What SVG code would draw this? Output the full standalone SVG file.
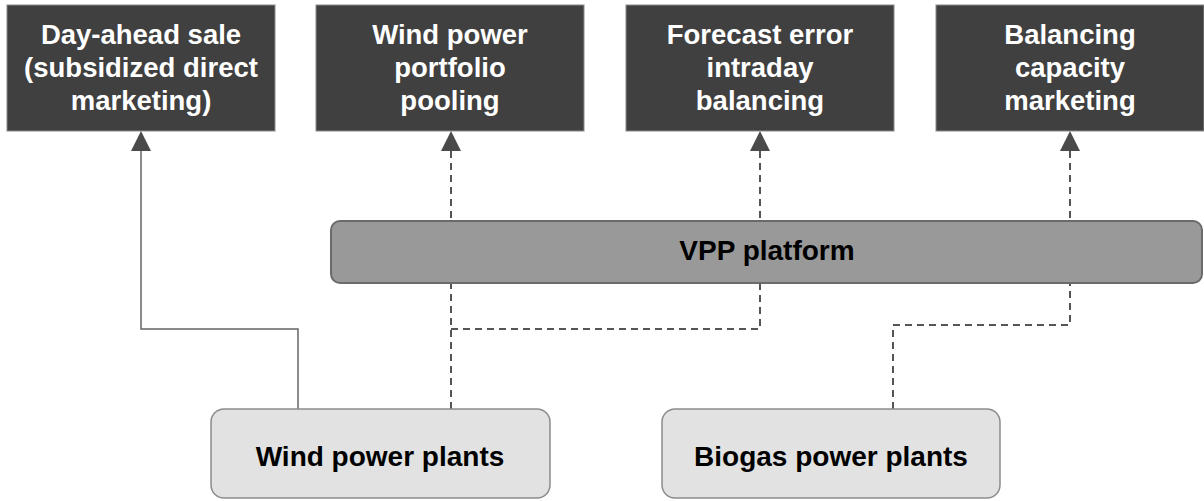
<svg xmlns="http://www.w3.org/2000/svg" width="1204" height="501" viewBox="0 0 1204 501">
<style>
.top{fill:#404040;stroke:#8a8a8a;stroke-width:1}
.tt{fill:#ffffff;font-family:"Liberation Sans",Arial,sans-serif;font-weight:bold;font-size:27.5px;text-anchor:middle}
.bt{fill:#000000;font-family:"Liberation Sans",Arial,sans-serif;font-weight:bold;font-size:28px;text-anchor:middle}
.plant{fill:#e2e2e2;stroke:#8c8c8c;stroke-width:1.5}
.vpp{fill:#999999;stroke:#6a6a6a;stroke-width:2}
.dash{fill:none;stroke:#555555;stroke-width:2;stroke-dasharray:7 5}
.solid{fill:none;stroke:#666666;stroke-width:1.5}
.head{fill:#4a4a4a}
</style>
<g id="connectors">
<path class="solid" d="M298,409 V329 H141 V151"/>
<path class="dash" d="M451,151 V221"/>
<path class="dash" d="M451,409 V283"/>
<path class="dash" d="M451,329 H760 V283"/>
<path class="dash" d="M760,151 V221"/>
<path class="dash" d="M1070,151 V221"/>
<path class="dash" d="M893,409 V325 H1070 V283"/>
<polygon class="head" points="141,131 131,151 151,151"/>
<polygon class="head" points="451,131 441,151 461,151"/>
<polygon class="head" points="760,131 750,151 770,151"/>
<polygon class="head" points="1070,131 1060,151 1080,151"/>
</g>
<g id="n-dayahead">
<rect class="top" x="7" y="5" width="268" height="126"/>
<text class="tt" x="141" y="44">Day-ahead sale</text>
<text class="tt" x="141" y="77">(subsidized direct</text>
<text class="tt" x="141" y="110">marketing)</text>
</g>
<g id="n-pooling">
<rect class="top" x="316" y="5" width="268" height="126"/>
<text class="tt" x="450" y="44">Wind power</text>
<text class="tt" x="450" y="77">portfolio</text>
<text class="tt" x="450" y="110">pooling</text>
</g>
<g id="n-forecast">
<rect class="top" x="626" y="5" width="268" height="126"/>
<text class="tt" x="760" y="44">Forecast error</text>
<text class="tt" x="760" y="77">intraday</text>
<text class="tt" x="760" y="110">balancing</text>
</g>
<g id="n-balancing">
<rect class="top" x="936" y="5" width="268" height="126"/>
<text class="tt" x="1070" y="44">Balancing</text>
<text class="tt" x="1070" y="77">capacity</text>
<text class="tt" x="1070" y="110">marketing</text>
</g>
<g id="n-vpp">
<rect class="vpp" x="331" y="221" width="871" height="62" rx="9"/>
<text class="bt" x="767" y="260">VPP platform</text>
</g>
<g id="n-wind">
<rect class="plant" x="211" y="409" width="339" height="89" rx="13"/>
<text class="bt" x="380" y="466">Wind power plants</text>
</g>
<g id="n-biogas">
<rect class="plant" x="662" y="409" width="338" height="89" rx="13"/>
<text class="bt" x="831" y="466">Biogas power plants</text>
</g>
</svg>
